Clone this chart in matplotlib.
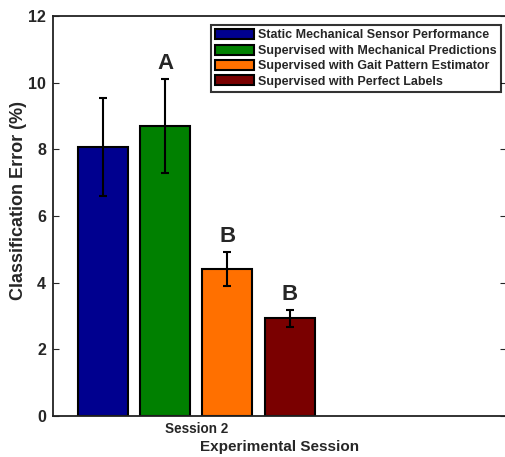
import matplotlib
matplotlib.use('Agg')
import matplotlib.pyplot as plt

plt.rcParams['font.family'] = ['Liberation Sans', 'DejaVu Sans']
plt.rcParams['font.weight'] = 'bold'

labels = ['Static Mechanical Sensor Performance',
          'Supervised with Mechanical Predictions',
          'Supervised with Gait Pattern Estimator',
          'Supervised with Perfect Labels']
means = [8.06, 8.71, 4.40, 2.93]
errs = [1.47, 1.41, 0.51, 0.25]
letters = ['', 'A', 'B', 'B']
colors = ['#00008f', '#008000', '#ff7000', '#7a0000']
offsets = [-0.3, -0.1, 0.1, 0.3]
session = 1.0

txt = '#262626'
fig = plt.figure(figsize=(5.05, 4.57), dpi=100)
ax = fig.add_axes([53/505, 1-416/457, 453/505, 400/457])

for lab, m, e, c, o, L in zip(labels, means, errs, colors, offsets, letters):
    x = session + o
    ax.bar(x, m, width=0.16, color=c, edgecolor='black', linewidth=1.5, label=lab, zorder=2)
    ax.errorbar(x, m, yerr=e, fmt='none', ecolor='black', elinewidth=1.5, capsize=3, capthick=1.5, zorder=3)
    if L:
        ax.text(x, m + e + 0.15, L, ha='center', va='bottom', fontsize=16, fontweight='bold', color=txt)

ax.set_xlim(0.54, 1.995)
ax.set_ylim(0, 12)
ax.set_yticks([0, 2, 4, 6, 8, 10, 12])
ax.set_xticks([session])
ax.set_xticklabels(['Session 2'])
ax.tick_params(axis='y', direction='in', right=True, labelsize=11.5, colors=txt, length=4, pad=5)
ax.tick_params(axis='x', direction='in', length=0, labelsize=9.75, colors=txt, pad=4)
for t in ax.get_yticklabels() + ax.get_xticklabels():
    t.set_fontweight('bold')
    t.set_color(txt)
for s in ax.spines.values():
    s.set_linewidth(1.3)
    s.set_color('#222222')
ax.set_xlabel('Experimental Session', fontsize=11, fontweight='bold', color=txt, labelpad=3)
ax.set_ylabel('Classification Error (%)', fontsize=13, fontweight='bold', color=txt)
ax.yaxis.set_label_coords(-0.058, 0.54)

leg = ax.legend(loc='upper right', bbox_to_anchor=(0.99, 0.978), fontsize=9, frameon=True,
                fancybox=False, shadow=False, edgecolor='black', handlelength=3.1, handleheight=0.85,
                handletextpad=0.35, labelspacing=0.25, borderpad=0.35, borderaxespad=0)
leg.get_frame().set_linewidth(1.5)
for t in leg.get_texts():
    t.set_color(txt)

fig.savefig('out.png', dpi=100)
